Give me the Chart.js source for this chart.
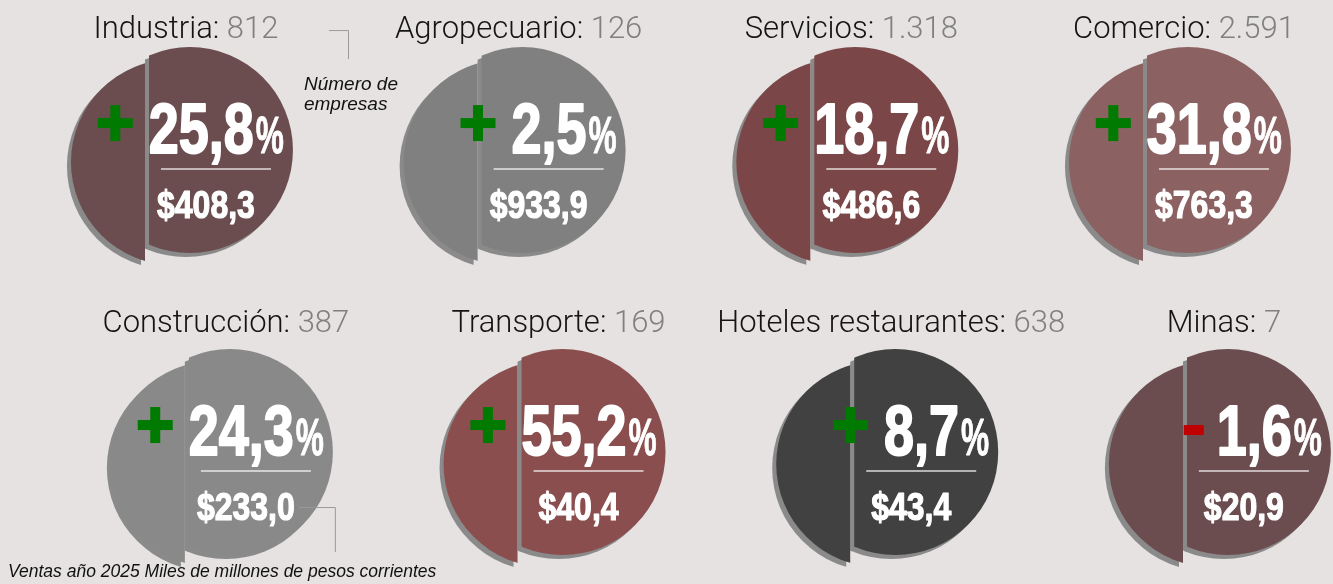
<!DOCTYPE html>
<html>
<head>
<meta charset="utf-8">
<script src="https://cdn.jsdelivr.net/npm/chart.js@4.4.1/dist/chart.umd.min.js"></script>
<style>
  html, body { margin: 0; padding: 0; background: #e5e2e1; }
  #wrap { width: 1333px; height: 584px; position: relative; }
</style>
</head>
<body>
<div id="wrap"><canvas id="sectorChart"></canvas></div>
<script>
// Datos por sector
const sectors = ['Industria', 'Agropecuario', 'Servicios', 'Comercio',
                 'Construcción', 'Transporte', 'Hoteles restaurantes', 'Minas'];
const companies = [812, 126, 1318, 2591, 387, 169, 638, 7];      // número de empresas
const growth = [25.8, 2.5, 18.7, 31.8, 24.3, 55.2, 8.7, -1.6];   // variación %
const sales = [408.3, 933.9, 486.6, 763.3, 233.0, 40.4, 43.4, 20.9]; // ventas 2025

// Estilo
const fills = ['#6c4d4f', '#808080', '#7b4647', '#8b6161',
               '#898989', '#8b4e4f', '#414141', '#6c4d4f'];
const SHADOW = '#8a8a8a';
const R = 103;
const perRow = 4;
const rowShift = [-0.06, 0.06];
const titleDy = [-112, -120];
const BOLD = '"Liberation Sans", Arial, sans-serif';

const fmtInt = n => String(n).replace(/\B(?=(\d{3})+(?!\d))/g, '.');
const fmtDec = n => Math.abs(n).toFixed(1).replace('.', ',');

const points = sectors.map((s, i) => {
    const row = Math.floor(i / perRow);
    return { x: (i % perRow) + rowShift[row], y: row };
});

function textW(ctx, font, txt) {
    ctx.font = font;
    return ctx.measureText(txt).width;
}

// texto comprimido en horizontal (con trazo para engrosar)
function squeezed(ctx, txt, font, x, y, sx, align, stroke) {
    ctx.save();
    ctx.translate(x, y);
    ctx.scale(sx, 1);
    ctx.font = font;
    ctx.textAlign = align || 'left';
    ctx.fillText(txt, 0, 0);
    if (stroke) {
        ctx.lineWidth = stroke;
        ctx.lineJoin = 'round';
        ctx.strokeStyle = ctx.fillStyle;
        ctx.strokeText(txt, 0, 0);
    }
    ctx.restore();
}

// Dibuja cada círculo partido en la posición del punto
const splitCircles = {
    id: 'splitCircles',
    beforeDatasetsDraw(chart) {
        const ctx = chart.ctx;
        const meta = chart.getDatasetMeta(0);
        meta.data.forEach((pt, i) => {
            const cx = pt.x, cy = pt.y;
            const cut = cx - 42;
            const lx = cx - 16, ly = cy + 12;
            const pieces = [
                { x: lx, y: ly, from: -1e4, to: cut - 3 },
                { x: cx, y: cy, from: cut + 1, to: 1e4 }
            ];
            // sombras
            pieces.forEach(p => {
                ctx.save();
                ctx.beginPath();
                ctx.rect(p.from - 4, 0, p.to - p.from, chart.height);
                ctx.clip();
                ctx.beginPath();
                ctx.arc(p.x - 4, p.y + 4, R, 0, Math.PI * 2);
                ctx.fillStyle = SHADOW;
                ctx.fill();
                ctx.restore();
            });
            pieces.forEach(p => {
                ctx.save();
                ctx.beginPath();
                ctx.rect(p.from, 0, p.to - p.from, chart.height);
                ctx.clip();
                ctx.beginPath();
                ctx.arc(p.x, p.y, R, 0, Math.PI * 2);
                ctx.fillStyle = fills[i];
                ctx.fill();
                ctx.restore();
            });
        });
    },
    afterDatasetsDraw(chart) {
        const ctx = chart.ctx;
        const meta = chart.getDatasetMeta(0);
        ctx.save();
        ctx.textBaseline = 'alphabetic';
        meta.data.forEach((pt, i) => {
            const cx = pt.x, cy = pt.y;
            const row = Math.floor(i / perRow);

            // título
            const tFont = '300 31px Roboto, "Liberation Sans", sans-serif';
            const name = sectors[i] + ': ';
            const num = fmtInt(companies[i]);
            const w1 = textW(ctx, tFont, name), w2 = textW(ctx, tFont, num);
            const tx = cx - 4 - (w1 + w2) / 2, ty = cy + titleDy[row];
            ctx.textAlign = 'left';
            ctx.fillStyle = '#141414';
            ctx.fillText(name, tx, ty);
            ctx.fillStyle = '#808080';
            ctx.fillText(num, tx + w1, ty);

            // porcentaje
            const pFont = 'bold 71px ' + BOLD;
            const sFont = 'bold 51px ' + BOLD;
            const pct = fmtDec(growth[i]);
            const sq = 0.76, sqp = 0.62;
            const wp = textW(ctx, pFont, pct) * sq;
            const ws = textW(ctx, sFont, '%') * sqp;
            const right = cx + 92, base = cy + 3;
            const left = right - ws - wp;
            ctx.fillStyle = '#ffffff';
            squeezed(ctx, pct, pFont, left, base, sq, 'left', 2);
            squeezed(ctx, '%', sFont, left + wp + 2, base, sqp, 'left', 1);

            // signo
            if (growth[i] >= 0) {
                ctx.fillStyle = '#007a00';
                const sx = left - 16 - 35, sy = base - 48;
                ctx.fillRect(sx, sy + 13, 35, 10);
                ctx.fillRect(sx + 12.5, sy, 10, 36);
            } else {
                ctx.fillStyle = '#c00000';
                ctx.fillRect(left - 13 - 20, base - 30, 20, 10);
            }

            // línea
            ctx.strokeStyle = 'rgba(255,255,255,0.8)';
            ctx.lineWidth = 1.5;
            ctx.beginPath();
            ctx.moveTo(cx + 26 - 55, cy + 19);
            ctx.lineTo(cx + 26 + 55, cy + 19);
            ctx.stroke();

            // ventas
            const vFont = 'bold 39px ' + BOLD;
            const vsq = 0.82;
            const vTxt = '$' + fmtDec(sales[i]);
            ctx.fillStyle = '#ffffff';
            squeezed(ctx, vTxt, vFont, cx + 16, cy + 68, vsq, 'center', 1.2);

            // anotaciones
            ctx.textAlign = 'left';
            ctx.strokeStyle = '#9a9a9a';
            ctx.lineWidth = 1;
            if (i === 0) {
                ctx.fillStyle = '#111';
                ctx.font = 'italic 19px "Liberation Sans", sans-serif';
                ctx.fillText('Número de', cx + 114, cy - 60);
                ctx.fillText('empresas', cx + 114, cy - 40);
                ctx.beginPath();
                ctx.moveTo(cx + 139, cy - 119.5);
                ctx.lineTo(cx + 158.5, cy - 119.5);
                ctx.lineTo(cx + 158.5, cy - 91);
                ctx.stroke();
            }
            if (i === 4) {
                const sw = textW(ctx, vFont, vTxt) * vsq;
                ctx.beginPath();
                ctx.moveTo(cx + 16 + sw / 2 + 4, cy + 55.5);
                ctx.lineTo(cx + 105.5, cy + 55.5);
                ctx.lineTo(cx + 105.5, cy + 100);
                ctx.stroke();
                ctx.fillStyle = '#111';
                ctx.font = 'italic 17.5px "Liberation Sans", sans-serif';
                ctx.fillText('Ventas año 2025 Miles de millones de pesos corrientes', 8, 577);
            }
        });
        ctx.restore();
    }
};

const ctx = document.getElementById('sectorChart').getContext('2d');
new Chart(ctx, {
    type: 'scatter',
    data: {
        datasets: [{
            label: 'Sectores',
            data: points,
            pointRadius: 0,
            pointHoverRadius: 0
        }]
    },
    options: {
        responsive: true,
        maintainAspectRatio: false,
        animation: false,
        layout: { padding: 0 },
        plugins: {
            legend: { display: false },
            tooltip: { enabled: false }
        },
        scales: {
            x: { type: 'linear', display: false, min: -0.631, max: 3.376 },
            y: { type: 'linear', display: false, reverse: true, min: -0.497, max: 1.437 }
        }
    },
    plugins: [splitCircles]
});
</script>
</body>
</html>
